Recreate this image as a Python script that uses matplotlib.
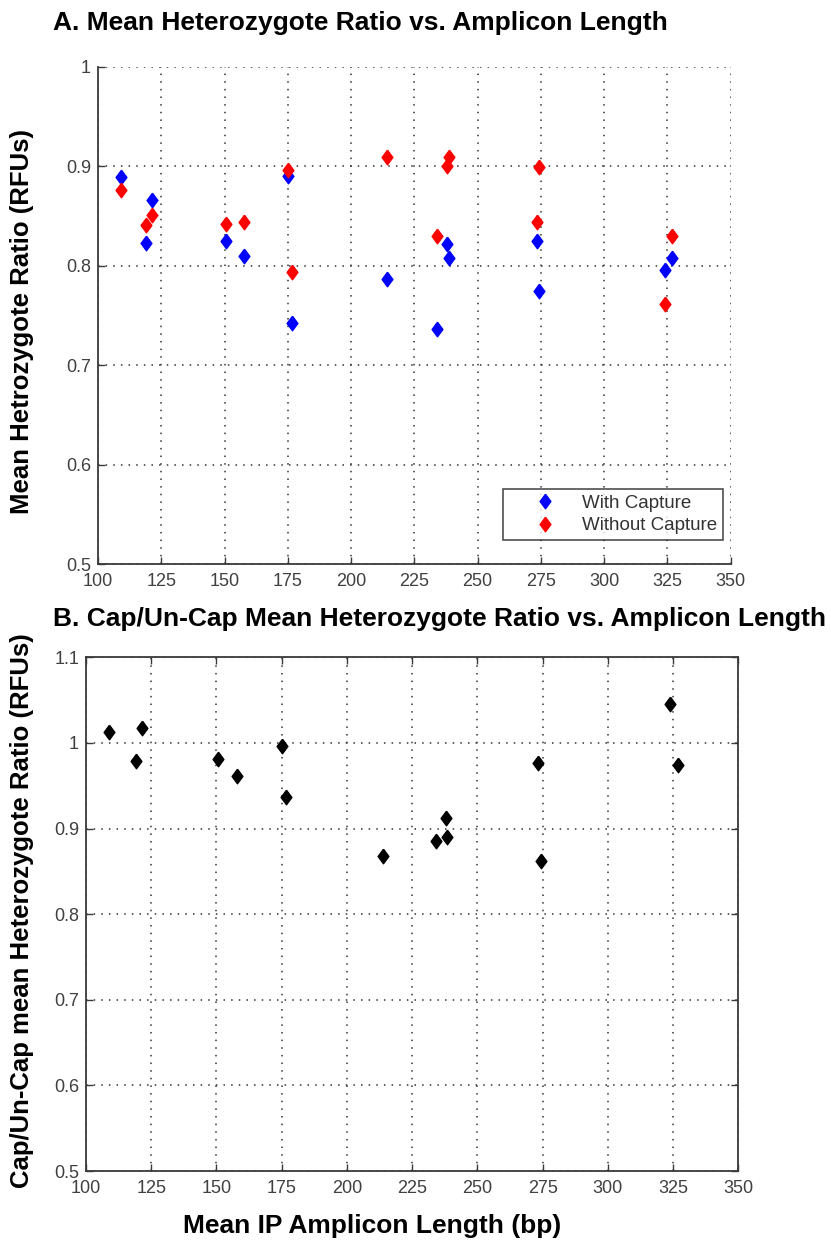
import matplotlib
matplotlib.use("Agg")
import matplotlib.pyplot as plt

plt.rcParams['font.family'] = ['Liberation Sans', 'DejaVu Sans']

# ---- data ----
amplicon_len = [109, 121.4, 119.1, 150.7, 157.7, 175, 176.7, 214,
                238.5, 237.8, 234, 274.3, 273.3, 327, 323.9]
with_capture = [0.889, 0.866, 0.823, 0.825, 0.810, 0.890, 0.742, 0.787,
                0.808, 0.822, 0.736, 0.775, 0.825, 0.808, 0.796]
without_capture = [0.876, 0.851, 0.841, 0.842, 0.844, 0.896, 0.794, 0.909,
                   0.909, 0.900, 0.830, 0.899, 0.844, 0.830, 0.762]
cap_ratio = [1.013, 1.017, 0.979, 0.981, 0.961, 0.996, 0.937, 0.868,
             0.890, 0.912, 0.885, 0.862, 0.977, 0.974, 1.045]

x_ticks = [100, 125, 150, 175, 200, 225, 250, 275, 300, 325, 350]
yA_ticks = [0.5, 0.6, 0.7, 0.8, 0.9, 1.0]
yA_labels = ['0.5', '0.6', '0.7', '0.8', '0.9', '1']
yB_ticks = [0.5, 0.6, 0.7, 0.8, 0.9, 1.0, 1.1]
yB_labels = ['0.5', '0.6', '0.7', '0.8', '0.9', '1', '1.1']

title_a = "A. Mean Heterozygote Ratio vs. Amplicon Length"
title_b = "B. Cap/Un-Cap Mean Heterozygote Ratio vs. Amplicon Length"
ylabel_a = "Mean Hetrozygote Ratio (RFUs)"
ylabel_b = "Cap/Un-Cap mean Heterozygote Ratio (RFUs)"
xlabel_b = "Mean IP Amplicon Length (bp)"
legend_labels = ["With Capture", "Without Capture"]

W, H = 831, 1249
fig = plt.figure(figsize=(W / 100, H / 100), dpi=100)

def fx(px):
    return px / W

def fy(py):
    return 1 - py / H

def add_ax(l, t, r, b):
    return fig.add_axes([fx(l), fy(b), fx(r) - fx(l), fy(t) - fy(b)])

diamond = [(0, 1), (0.74, 0), (0, -1), (-0.74, 0), (0, 1)]
axis_col = '#3a3a3a'
tick_col = '#404040'
grid_kw = dict(color='#333333', linestyle=(0, (1, 4)), linewidth=1.1)

def style(ax, box):
    ax.set_xlim(100, 350)
    ax.set_xticks(x_ticks)
    ax.set_xticklabels([str(v) for v in x_ticks])
    ax.grid(True, **grid_kw)
    ax.set_axisbelow(True)
    ax.tick_params(direction='in', length=5, width=1, colors=axis_col,
                   labelcolor=tick_col, labelsize=13,
                   top=box, right=box)
    ax.tick_params(axis='x', pad=6.5)
    ax.tick_params(axis='y', pad=5)
    for s in ['left', 'bottom', 'top', 'right']:
        ax.spines[s].set_color(axis_col)
        ax.spines[s].set_linewidth(1.3)
    if not box:
        ax.spines['top'].set_visible(False)
        ax.spines['right'].set_visible(False)

# ---- panel A ----
axA = add_ax(98, 66.7, 730.7, 564.3)
style(axA, False)
axA.set_ylim(0.5, 1.0)
axA.set_yticks(yA_ticks)
axA.set_yticklabels(yA_labels)
axA.plot(amplicon_len, with_capture, linestyle='none', marker=diamond,
         markersize=10.5, color='#0000ff', label=legend_labels[0], zorder=3)
axA.plot(amplicon_len, without_capture, linestyle='none', marker=diamond,
         markersize=10.5, color='#ff0000', label=legend_labels[1], zorder=3)
leg = axA.legend(loc='lower right', bbox_to_anchor=(0.988, 0.049),
                 fontsize=13.5, frameon=True, fancybox=False,
                 edgecolor='#222222', borderpad=0.3, handletextpad=0.0,
                 labelspacing=0.28, handlelength=3.95, borderaxespad=0)
leg.get_frame().set_linewidth(1.2)
for t in leg.get_texts():
    t.set_color('#333333')
fig.text(fx(22), fy(322), ylabel_a, rotation=90, ha='center', va='center',
         fontsize=18.5, fontweight='bold')

# ---- panel B ----
axB = add_ax(86, 657.3, 738.3, 1171)
style(axB, True)
axB.set_ylim(0.5, 1.1)
axB.set_yticks(yB_ticks)
axB.set_yticklabels(yB_labels)
axB.plot(amplicon_len, cap_ratio, linestyle='none', marker=diamond,
         markersize=10.5, color='black', zorder=3)
fig.text(fx(22), fy(911), ylabel_b, rotation=90, ha='center', va='center',
         fontsize=18.5, fontweight='bold')
fig.text(fx(372), fy(1226), xlabel_b, ha='center', va='center',
         fontsize=19, fontweight='bold')

# ---- titles ----
fig.text(fx(53), fy(23), title_a, ha='left', va='center',
         fontsize=19, fontweight='bold')
fig.text(fx(53), fy(619), title_b, ha='left', va='center',
         fontsize=19, fontweight='bold')

fig.savefig('out.png', dpi=100, facecolor='white')
